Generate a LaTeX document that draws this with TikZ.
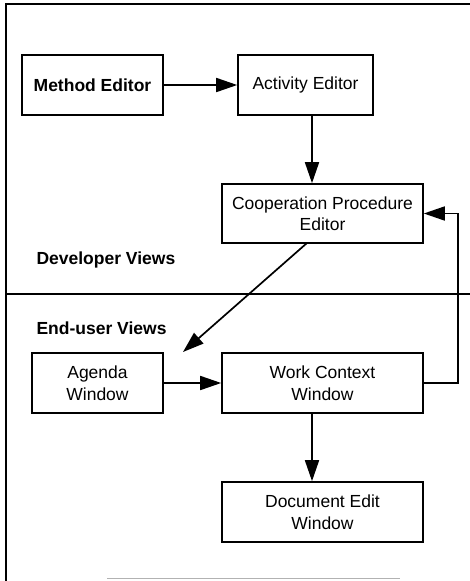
\documentclass[tikz,border=0pt]{standalone}
\usepackage{fontspec}
\setmainfont{Liberation Sans}
\usetikzlibrary{arrows.meta,calc}
\begin{document}
\begin{tikzpicture}[x=1pt,y=-1pt,
  every node/.style={font=\fontsize{17.5}{21.5}\selectfont},
  box/.style={draw,line width=1.6pt,align=center,inner sep=0pt},
  link/.style={line width=1.7pt,-{Triangle[length=21pt,width=14pt]}},
  frame/.style={line width=1.8pt},
  label/.style={font=\fontsize{17.5}{21}\selectfont\bfseries,anchor=west}]
  \useasboundingbox (0,0) rectangle (470,581);

  % outer frame and separator between the two view groups
  \draw[frame] (470,4) -- (6,4) -- (6,581);
  \draw[line width=1.2pt] (6,294) -- (470,294);
  \draw[gray!60,line width=1pt] (107,578) -- (400,578);

  % developer views
  \node[box,minimum width=141pt,minimum height=60pt,font=\fontsize{17.5}{21}\selectfont\bfseries] (me) at (92.5,85) {Method Editor};
  \node[box,minimum width=135pt,minimum height=60pt] (ae) at (305.5,85) {Activity Editor};
  \node[box,minimum width=201pt,minimum height=59pt] (cp) at (322.5,213.5) {Cooperation Procedure\\Editor};
  \node[label] (dv) at (33,260) {Developer Views};

  % end-user views
  \node[label] (ev) at (33,328) {End-user Views};
  \node[box,minimum width=131pt,minimum height=60pt] (ag) at (97.5,383) {Agenda\\Window};
  \node[box,minimum width=201pt,minimum height=60pt] (wc) at (322.5,383) {Work Context\\Window};
  \node[box,minimum width=201pt,minimum height=60pt] (de) at (322.5,512) {Document Edit\\Window};

  % connector end points
  \coordinate (col) at (312,0);
  \coordinate (cpout) at (307,243);
  \coordinate (agin) at (183,352);
  \coordinate (rt) at (458,0);

  % connectors
  \draw[link] (me.east) -- (ae.west);
  \draw[link] (ae.south -| col) -- (cp.north -| col);
  \draw[link] (cpout) -- (agin);
  \draw[link] (ag.east) -- (wc.west);
  \draw[link] (wc.south -| col) -- (de.north -| col);
  \draw[link] (wc.east) -- (wc.east -| rt) |- (cp.east);
\end{tikzpicture}
\end{document}
